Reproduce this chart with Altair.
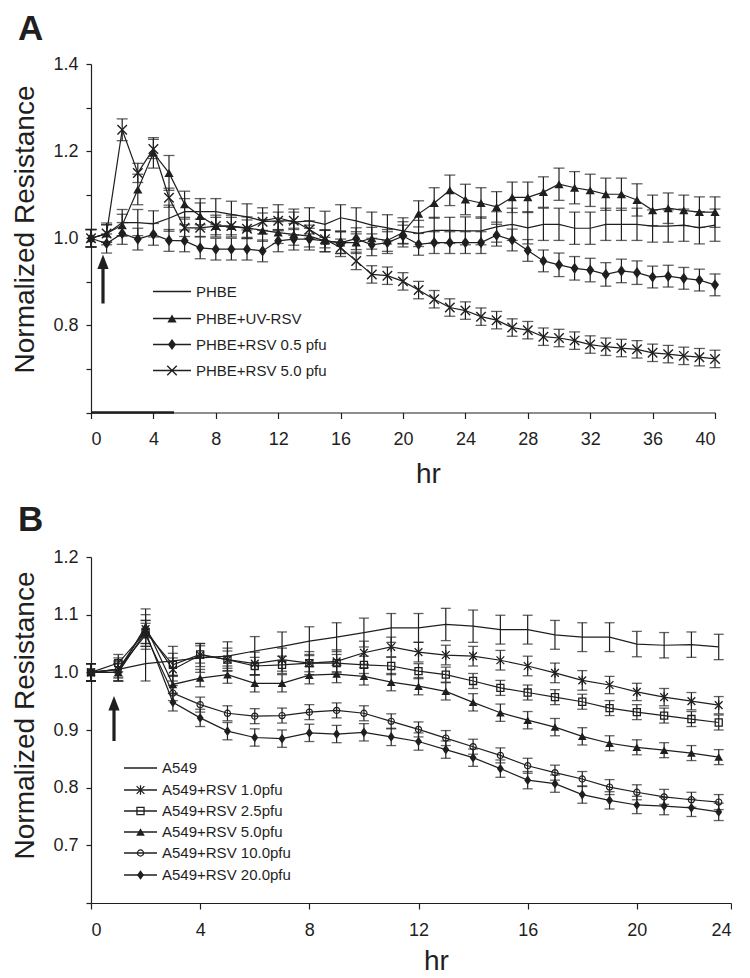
import altair as alt
import pandas as pd

INK = "#1f1f1f"
FONT = "Liberation Sans"

# ---------------- Panel A data (hr 0..40) ----------------
hours_a = list(range(41))
a_names = ["PHBE", "PHBE+UV-RSV", "PHBE+RSV 0.5 pfu", "PHBE+RSV 5.0 pfu"]
a_phbe = [1.000, 1.010, 1.036, 1.036, 1.033, 1.046, 1.061, 1.061, 1.061, 1.055,
          1.049, 1.040, 1.047, 1.037, 1.040, 1.032, 1.047, 1.040, 1.030, 1.024,
          1.017, 1.011, 1.018, 1.018, 1.017, 1.017, 1.026, 1.032, 1.024, 1.032,
          1.032, 1.023, 1.023, 1.032, 1.032, 1.032, 1.028, 1.028, 1.030, 1.024, 1.030]
a_phbe_err = [0.020, 0.025, 0.030, 0.030, 0.030, 0.030, 0.030, 0.030, 0.030, 0.030,
              0.030, 0.030, 0.030, 0.030, 0.030, 0.030, 0.030, 0.030, 0.030, 0.030,
              0.030, 0.030, 0.030, 0.030, 0.032, 0.032, 0.035, 0.037, 0.037, 0.037,
              0.037, 0.037, 0.037, 0.037, 0.037, 0.037, 0.037, 0.037, 0.037, 0.037, 0.037]
a_uv = [1.000, 1.011, 1.030, 1.112, 1.196, 1.150, 1.078, 1.051, 1.028, 1.028,
        1.024, 1.018, 1.013, 1.009, 1.005, 0.994, 0.990, 0.990, 1.000, 0.995,
        1.013, 1.056, 1.081, 1.110, 1.089, 1.081, 1.072, 1.094, 1.094, 1.106,
        1.124, 1.116, 1.110, 1.101, 1.101, 1.088, 1.064, 1.069, 1.064, 1.060, 1.060]
a_uv_err = [0.020, 0.020, 0.025, 0.035, 0.035, 0.040, 0.030, 0.030, 0.025, 0.025,
            0.025, 0.025, 0.025, 0.025, 0.025, 0.025, 0.025, 0.025, 0.025, 0.025,
            0.025, 0.030, 0.035, 0.035, 0.035, 0.035, 0.035, 0.035, 0.035, 0.035,
            0.037, 0.037, 0.037, 0.037, 0.037, 0.037, 0.035, 0.035, 0.035, 0.035, 0.035]
a_rsv05 = [1.000, 0.988, 1.011, 0.998, 1.009, 0.995, 0.994, 0.978, 0.975, 0.975,
           0.975, 0.971, 0.994, 0.998, 0.998, 0.994, 0.990, 0.999, 0.985, 0.990,
           1.005, 0.986, 0.990, 0.990, 0.990, 0.990, 1.007, 0.996, 0.972, 0.948,
           0.939, 0.931, 0.927, 0.917, 0.925, 0.921, 0.911, 0.913, 0.908, 0.904, 0.893]
a_rsv05_err = [0.020, 0.022, 0.025, 0.025, 0.025, 0.025, 0.025, 0.025, 0.025, 0.025,
               0.025, 0.025, 0.025, 0.025, 0.025, 0.025, 0.025, 0.025, 0.025, 0.025,
               0.025, 0.025, 0.025, 0.025, 0.025, 0.025, 0.025, 0.025, 0.025, 0.025,
               0.027, 0.027, 0.027, 0.027, 0.027, 0.027, 0.025, 0.025, 0.025, 0.025, 0.025]
a_rsv50 = [1.000, 1.011, 1.249, 1.150, 1.205, 1.093, 1.024, 1.024, 1.028, 1.028,
           1.022, 1.038, 1.040, 1.040, 1.020, 0.998, 0.978, 0.948, 0.917, 0.914,
           0.901, 0.881, 0.860, 0.841, 0.834, 0.820, 0.812, 0.795, 0.789, 0.774,
           0.771, 0.765, 0.756, 0.751, 0.748, 0.745, 0.737, 0.734, 0.730, 0.727, 0.723]
a_rsv50_err = [0.020, 0.020, 0.025, 0.022, 0.022, 0.022, 0.020, 0.020, 0.020, 0.020,
               0.020, 0.020, 0.020, 0.020, 0.020, 0.020, 0.020, 0.020, 0.020, 0.020,
               0.020, 0.020, 0.020, 0.020, 0.020, 0.020, 0.020, 0.020, 0.020, 0.020,
               0.020, 0.020, 0.020, 0.020, 0.020, 0.020, 0.020, 0.020, 0.020, 0.020, 0.020]

# ---------------- Panel B data (hr 0..23) ----------------
hours_b = list(range(24))
b_names = ["A549", "A549+RSV 1.0pfu", "A549+RSV 2.5pfu", "A549+RSV 5.0pfu",
           "A549+RSV 10.0pfu", "A549+RSV 20.0pfu"]
b_a549 = [1.000, 1.005, 1.015, 1.020, 1.025, 1.028, 1.037, 1.045, 1.054, 1.061,
          1.069, 1.077, 1.077, 1.083, 1.080, 1.074, 1.074, 1.065, 1.061, 1.061,
          1.049, 1.047, 1.048, 1.044]
b_a549_err = [0.015, 0.020, 0.030, 0.025, 0.025, 0.025, 0.025, 0.025, 0.025, 0.025,
              0.025, 0.025, 0.025, 0.028, 0.028, 0.025, 0.025, 0.025, 0.025, 0.025,
              0.022, 0.022, 0.022, 0.022]
b_r10 = [1.000, 1.005, 1.075, 1.005, 1.030, 1.022, 1.015, 1.022, 1.016, 1.019,
         1.034, 1.044, 1.035, 1.030, 1.028, 1.021, 1.011, 0.999, 0.986, 0.978,
         0.966, 0.957, 0.950, 0.943]
b_r10_err = [0.015, 0.015, 0.035, 0.020, 0.020, 0.020, 0.020, 0.020, 0.020, 0.020,
             0.020, 0.017, 0.017, 0.017, 0.017, 0.017, 0.017, 0.017, 0.017, 0.015,
             0.015, 0.015, 0.015, 0.015]
b_r25 = [1.000, 1.016, 1.070, 1.013, 1.031, 1.022, 1.011, 1.013, 1.016, 1.016,
         1.013, 1.011, 1.002, 0.996, 0.985, 0.973, 0.965, 0.957, 0.949, 0.938,
         0.931, 0.925, 0.919, 0.913]
b_r25_err = [0.015, 0.015, 0.020, 0.020, 0.015, 0.015, 0.015, 0.015, 0.015, 0.015,
             0.015, 0.015, 0.013, 0.013, 0.013, 0.013, 0.013, 0.013, 0.013, 0.013,
             0.013, 0.013, 0.013, 0.013]
b_r50 = [1.000, 1.000, 1.080, 0.979, 0.990, 0.996, 0.981, 0.981, 0.995, 0.997,
         0.993, 0.983, 0.976, 0.967, 0.948, 0.930, 0.917, 0.905, 0.889, 0.877,
         0.870, 0.865, 0.860, 0.853]
b_r50_err = [0.015, 0.015, 0.020, 0.015, 0.015, 0.015, 0.015, 0.015, 0.015, 0.015,
             0.015, 0.015, 0.015, 0.015, 0.015, 0.015, 0.015, 0.015, 0.015, 0.013,
             0.013, 0.013, 0.013, 0.013]
b_r100 = [1.000, 1.005, 1.065, 0.964, 0.944, 0.929, 0.924, 0.925, 0.931, 0.934,
          0.929, 0.915, 0.901, 0.886, 0.871, 0.856, 0.838, 0.826, 0.815, 0.801,
          0.792, 0.784, 0.779, 0.775]
b_r100_err = [0.015, 0.013, 0.020, 0.013, 0.013, 0.013, 0.013, 0.013, 0.013, 0.013,
              0.013, 0.013, 0.013, 0.013, 0.013, 0.013, 0.013, 0.013, 0.013, 0.013,
              0.013, 0.013, 0.013, 0.013]
b_r200 = [1.000, 1.000, 1.070, 0.948, 0.921, 0.898, 0.887, 0.885, 0.895, 0.893,
          0.896, 0.888, 0.880, 0.866, 0.852, 0.833, 0.813, 0.807, 0.788, 0.778,
          0.770, 0.768, 0.765, 0.758]
b_r200_err = [0.015, 0.015, 0.020, 0.015, 0.015, 0.015, 0.015, 0.015, 0.015, 0.015,
              0.015, 0.015, 0.015, 0.015, 0.015, 0.015, 0.015, 0.015, 0.015, 0.015,
              0.015, 0.015, 0.015, 0.015]

a_vals = [a_phbe, a_uv, a_rsv05, a_rsv50]
a_errs = [a_phbe_err, a_uv_err, a_rsv05_err, a_rsv50_err]
b_vals = [b_a549, b_r10, b_r25, b_r50, b_r100, b_r200]
b_errs = [b_a549_err, b_r10_err, b_r25_err, b_r50_err, b_r100_err, b_r200_err]

XPATH = "M-1,-1L1,1M-1,1L1,-1"
STAR = "M-1,-1L1,1M-1,1L1,-1M0,-1.25L0,1.25"
DIAM = "M0,-1.25L0.9,0L0,1.25L-0.9,0Z"
ARROWHEAD = "M0,-1.05L0.8,1L-0.8,1Z"

# style: (shape, filled, size, strokeWidth)
a_style = {
    "PHBE": None,
    "PHBE+UV-RSV": ("triangle-up", True, 85, 1),
    "PHBE+RSV 0.5 pfu": (DIAM, True, 80, 1),
    "PHBE+RSV 5.0 pfu": (XPATH, False, 90, 1.4),
}
b_style = {
    "A549": None,
    "A549+RSV 1.0pfu": (STAR, False, 60, 1.3),
    "A549+RSV 2.5pfu": ("square", False, 50, 1.3),
    "A549+RSV 5.0pfu": ("triangle-up", True, 75, 1),
    "A549+RSV 10.0pfu": ("circle", False, 38, 1.2),
    "A549+RSV 20.0pfu": (DIAM, True, 60, 1),
}


def long_df(names, hours, vals, errs):
    rows = []
    for n, v, e in zip(names, vals, errs):
        for h, vv, ee in zip(hours, v, e):
            rows.append({"series": n, "hr": h, "val": vv, "lo": vv - ee, "hi": vv + ee})
    return pd.DataFrame(rows)


def panel(df, names, style, xdom, xvals, xlabelexpr, ydom, yvals, ylabelexpr,
          width, height, ytitle_y, xtitle_y, letter, letter_y, legend_x, legend_ys,
          arrow, cap, extra_layers):
    xs = alt.Scale(domain=xdom, nice=False, zero=False)
    ys = alt.Scale(domain=ydom, nice=False, zero=False)
    xax = alt.Axis(values=xvals, labelExpr=xlabelexpr, tickSize=6, labelPadding=12,
                   title="hr", titleX=width / 2 + 25, titleY=xtitle_y,
                   titleBaseline="alphabetic", titleAlign="center", titleFontSize=28,
                   titleFontWeight="normal", labelFontSize=18, labelFont=FONT,
                   titleFont=FONT)
    yax = alt.Axis(values=yvals, labelExpr=ylabelexpr, tickSize=5, labelPadding=8,
                   title="Normalized Resistance", titleX=-58, titleY=ytitle_y,
                   titleAngle=270, titleBaseline="alphabetic", titleAlign="center",
                   titleFontSize=28, titleFontWeight="normal", labelFontSize=18,
                   labelFont=FONT, titleFont=FONT)
    X = alt.X("hr:Q", scale=xs, axis=xax)
    Y = alt.Y("val:Q", scale=ys, axis=yax)
    base = alt.Chart(df)
    layers = []
    layers.append(base.mark_rule(color=INK, strokeWidth=1.2).encode(
        x=X, y=alt.Y("lo:Q", scale=ys, axis=yax), y2="hi:Q"))
    layers.append(base.mark_tick(orient="horizontal", size=cap, thickness=1.3, color=INK).encode(
        x=X, y=alt.Y("lo:Q", scale=ys, axis=yax)))
    layers.append(base.mark_tick(orient="horizontal", size=cap, thickness=1.3, color=INK).encode(
        x=X, y=alt.Y("hi:Q", scale=ys, axis=yax)))
    layers.append(base.mark_line(color=INK, strokeWidth=1.2).encode(
        x=X, y=Y, detail="series:N"))
    for n in names:
        st = style[n]
        if st is None:
            continue
        shape, filled, size, sw = st
        layers.append(base.transform_filter(alt.datum.series == n).mark_point(
            shape=shape, filled=filled, size=size, color=INK, opacity=1,
            strokeWidth=sw, fillOpacity=1).encode(x=X, y=Y))
    # legend
    lx0, lx1, tx = legend_x
    for n, ly in zip(names, legend_ys):
        one = alt.Chart(pd.DataFrame({"label": [n]}))
        layers.append(one.mark_rule(color=INK, strokeWidth=1.3).encode(
            x=alt.value(lx0), x2=alt.value(lx1), y=alt.value(ly)))
        st = style[n]
        if st is not None:
            shape, filled, size, sw = st
            layers.append(one.mark_point(shape=shape, filled=filled, size=size, color=INK,
                                         opacity=1, strokeWidth=sw, fillOpacity=1).encode(
                x=alt.value((lx0 + lx1) / 2), y=alt.value(ly)))
        layers.append(one.mark_text(align="left", baseline="middle", font=FONT, fontSize=15,
                                    color=INK).encode(
            x=alt.value(tx), y=alt.value(ly), text="label:N"))
    # panel letter
    lab = alt.Chart(pd.DataFrame({"t": [letter]}))
    layers.append(lab.mark_text(align="left", baseline="alphabetic", font=FONT, fontSize=35,
                                fontWeight="bold", color=INK).encode(
        x=alt.value(-73), y=alt.value(letter_y), text="t:N"))
    # arrow annotation
    ax_, tip, bottom = arrow
    arr = alt.Chart(pd.DataFrame({"a": [1]}))
    layers.append(arr.mark_rule(color=INK, strokeWidth=3.2).encode(
        x=alt.value(ax_), y=alt.value(tip + 12), y2=alt.value(bottom)))
    layers.append(arr.mark_point(shape=ARROWHEAD, filled=True, size=196, color=INK,
                                 opacity=1, strokeWidth=0).encode(
        x=alt.value(ax_), y=alt.value(tip + 7.4)))
    layers += extra_layers
    return alt.layer(*layers).properties(width=width, height=height)


df_a = long_df(a_names, hours_a, a_vals, a_errs)
df_b = long_df(b_names, hours_b, b_vals, b_errs)

ya_vals = [round(0.6 + 0.1 * i, 1) for i in range(9)]
yb_vals = [round(0.6 + 0.1 * i, 1) for i in range(7)]

thick = alt.Chart(pd.DataFrame({"a": [1]})).mark_rule(color=INK, strokeWidth=2.4).encode(
    x=alt.value(0), x2=alt.value(83), y=alt.value(348.5))

chart_a = panel(
    df_a, a_names, a_style,
    xdom=[0, 40], xvals=list(range(0, 41, 4)), xlabelexpr="datum.label",
    ydom=[0.6, 1.4], yvals=ya_vals,
    ylabelexpr="datum.value > 0.65 && round(datum.value*10) % 2 == 0 ? format(datum.value, '.1f') : ''",
    width=624, height=348.5, ytitle_y=165, xtitle_y=70,
    letter="A", letter_y=-24.5,
    legend_x=(62, 100, 105), legend_ys=[227.5, 254.5, 280.5, 306.5],
    arrow=(12, 190.5, 239.5), cap=11, extra_layers=[thick])

chart_b = panel(
    df_b, b_names, b_style,
    xdom=[0, 23.45], xvals=[0, 4, 8, 12, 16, 20, 23.45],
    xlabelexpr="datum.value > 23 ? '24' : datum.label",
    ydom=[0.6, 1.2], yvals=yb_vals,
    ylabelexpr="datum.value > 0.65 ? format(datum.value, '.1f') : ''",
    width=640, height=346, ytitle_y=158, xtitle_y=66,
    letter="B", letter_y=-26,
    legend_x=(33, 66, 71), legend_ys=[211, 233, 254, 275, 296, 318],
    arrow=(23, 139, 184), cap=10, extra_layers=[])

chart = alt.vconcat(chart_a, chart_b, spacing=14).properties(
    padding={"left": 2, "top": 3, "right": 0, "bottom": 2},
    background="white"
).configure_view(stroke=None).configure_axis(
    grid=False, domainColor=INK, tickColor=INK, labelColor=INK, titleColor=INK,
    labelFont=FONT, titleFont=FONT, labelFontSize=18, titleFontWeight="normal",
    domainWidth=1.2, tickWidth=1.2
)

chart.save("out.html", embed_options={"renderer": "svg", "actions": False})
